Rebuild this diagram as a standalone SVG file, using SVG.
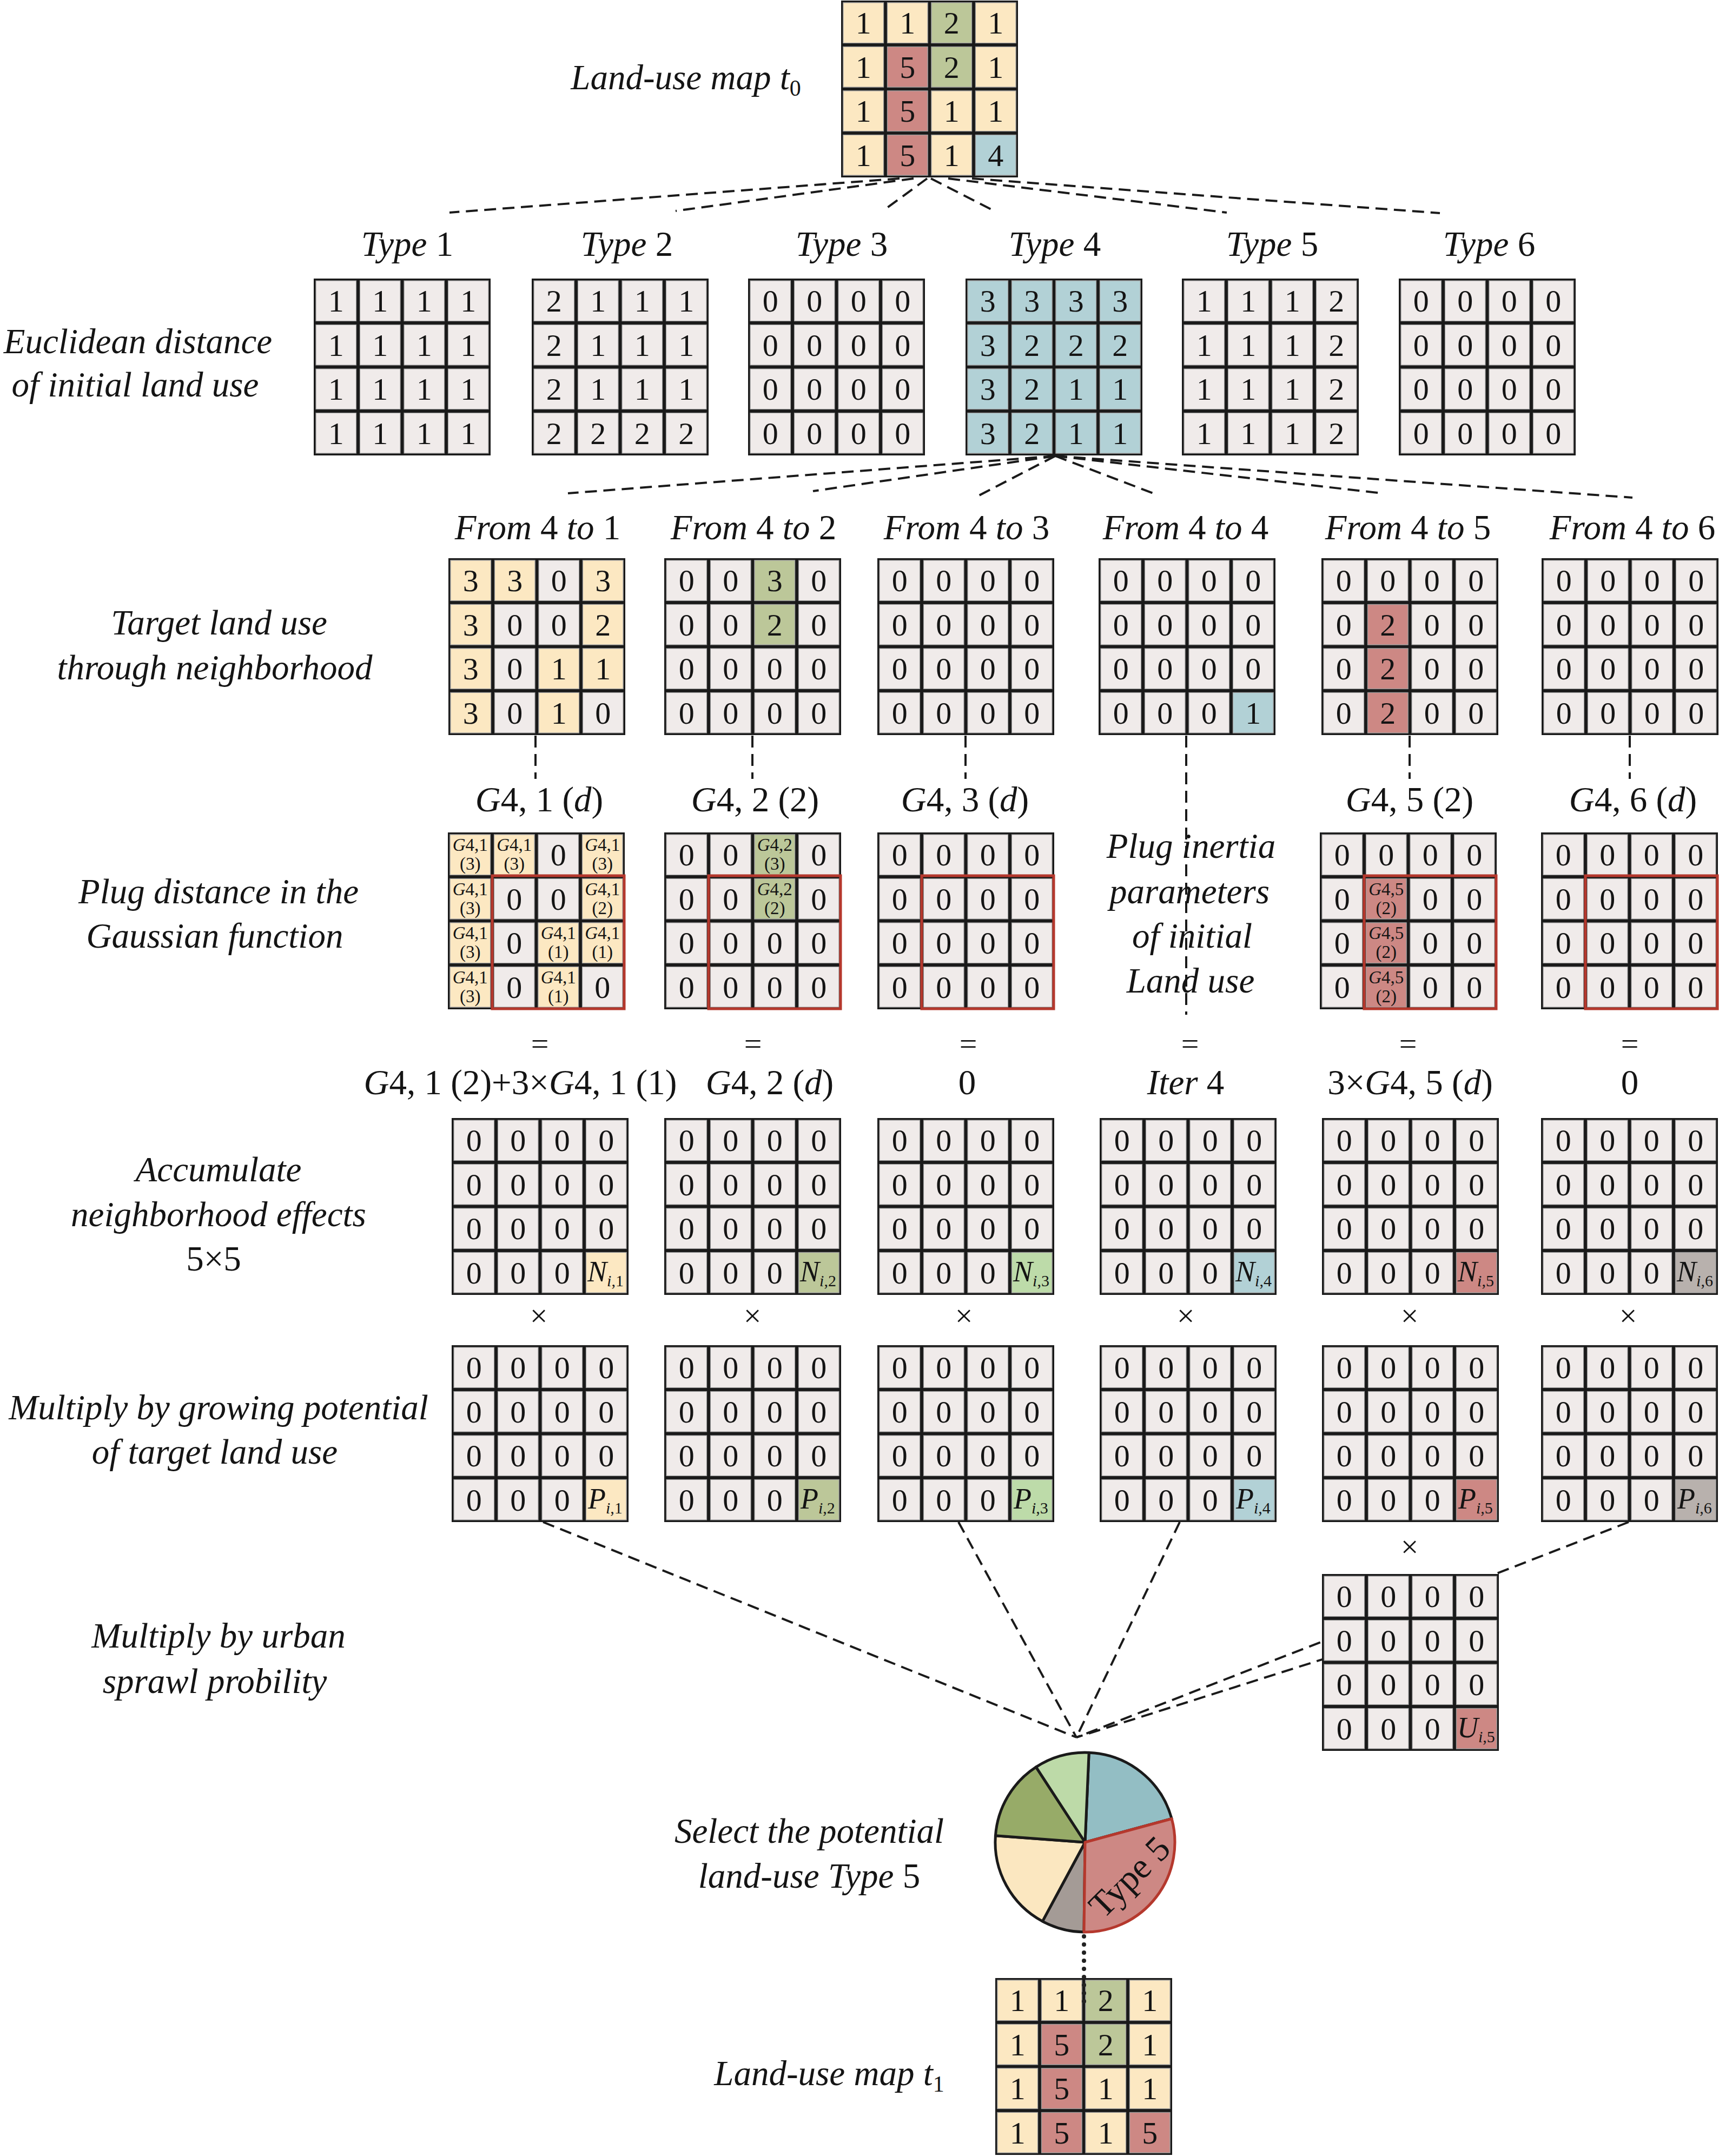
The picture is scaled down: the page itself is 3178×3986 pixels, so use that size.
<svg xmlns="http://www.w3.org/2000/svg" xmlns:xlink="http://www.w3.org/1999/xlink" width="3178" height="3986" viewBox="0 0 3178 3986">
<style>
.w{fill:#f0ebea}
.y{fill:#fce8c2}
.gn{fill:#bcc799}
.lg{fill:#bddba9}
.b{fill:#b2d1d6}
.r{fill:#cd8884}
.k{fill:#b8b1ad}
.c{stroke:#9e9e9e;stroke-width:1.2}
.n{font-family:"Liberation Serif","Times New Roman",serif;font-size:58px;fill:#141414;text-anchor:middle}
.gs{font-family:"Liberation Serif","Times New Roman",serif;font-size:33px;fill:#141414;text-anchor:middle}
.lab{font-family:"Liberation Serif","Times New Roman",serif;font-style:italic;font-size:65px;fill:#141414;text-anchor:middle}
.op{font-family:"Liberation Serif","Times New Roman",serif;font-size:58px;fill:#141414;text-anchor:middle}
.nn{font-family:"Liberation Serif","Times New Roman",serif;font-style:italic;font-size:54px;fill:#141414;text-anchor:start}
.up{font-style:normal}
.it{font-style:italic}
.dash{fill:none;stroke:#1a1a1a;stroke-width:4;stroke-dasharray:22 12}
.red{fill:none;stroke:#b5382d;stroke-width:5}
.pie{stroke:#1a1a1a;stroke-width:5;stroke-linejoin:round}
</style>
<defs>
<g id="base">
<rect width="327" height="327" fill="#1a1a1a"/>
<rect class="w c" x="4" y="4" width="74.5" height="74.5"/><rect class="w c" x="85.5" y="4" width="74.5" height="74.5"/><rect class="w c" x="167" y="4" width="74.5" height="74.5"/><rect class="w c" x="248.5" y="4" width="74.5" height="74.5"/>
<rect class="w c" x="4" y="85.5" width="74.5" height="74.5"/><rect class="w c" x="85.5" y="85.5" width="74.5" height="74.5"/><rect class="w c" x="167" y="85.5" width="74.5" height="74.5"/><rect class="w c" x="248.5" y="85.5" width="74.5" height="74.5"/>
<rect class="w c" x="4" y="167" width="74.5" height="74.5"/><rect class="w c" x="85.5" y="167" width="74.5" height="74.5"/><rect class="w c" x="167" y="167" width="74.5" height="74.5"/><rect class="w c" x="248.5" y="167" width="74.5" height="74.5"/>
<rect class="w c" x="4" y="248.5" width="74.5" height="74.5"/><rect class="w c" x="85.5" y="248.5" width="74.5" height="74.5"/><rect class="w c" x="167" y="248.5" width="74.5" height="74.5"/><rect class="w c" x="248.5" y="248.5" width="74.5" height="74.5"/>
</g>
</defs>
<rect width="3178" height="3986" fill="#ffffff"/>

<g id="connectors" class="dash">
<path d="M1663,330 L831,393"/>
<path d="M1689,330 L1249,390"/>
<path d="M1714,330 L1632,390"/>
<path d="M1721,330 L1842,392"/>
<path d="M1753,330 L2268,393"/>
<path d="M1797,330 L2662,394"/>
<path d="M1951,843 L1050,912"/>
<path d="M1951,843 L1503,908"/>
<path d="M1951,843 L1810,916"/>
<path d="M1951,843 L2140,915"/>
<path d="M1951,843 L2555,912"/>
<path d="M1951,843 L3018,920"/>
<path d="M990,1360 L990,1440"/>
<path d="M1391,1360 L1391,1440"/>
<path d="M1785,1360 L1785,1440"/>
<path d="M2193,1360 L2193,1876"/>
<path d="M2606,1360 L2606,1440"/>
<path d="M3013,1360 L3013,1440"/>
<path d="M1004,2814 L1990,3212"/>
<path d="M1772,2814 L1990,3212"/>
<path d="M2181,2814 L1990,3212"/>
<path d="M3011,2814 L1990,3212"/>
<path d="M2520,3044 L1990,3212"/>
</g>

<!-- Land-use map t0 -->
<g id="map-t0" transform="translate(1555,1)">
<use xlink:href="#base"/>
<rect class="y c" x="4" y="4" width="74.5" height="74.5"/><rect class="y c" x="85.5" y="4" width="74.5" height="74.5"/><rect class="gn c" x="167" y="4" width="74.5" height="74.5"/><rect class="y c" x="248.5" y="4" width="74.5" height="74.5"/>
<rect class="y c" x="4" y="85.5" width="74.5" height="74.5"/><rect class="r c" x="85.5" y="85.5" width="74.5" height="74.5"/><rect class="gn c" x="167" y="85.5" width="74.5" height="74.5"/><rect class="y c" x="248.5" y="85.5" width="74.5" height="74.5"/>
<rect class="y c" x="4" y="167" width="74.5" height="74.5"/><rect class="r c" x="85.5" y="167" width="74.5" height="74.5"/><rect class="y c" x="167" y="167" width="74.5" height="74.5"/><rect class="y c" x="248.5" y="167" width="74.5" height="74.5"/>
<rect class="y c" x="4" y="248.5" width="74.5" height="74.5"/><rect class="r c" x="85.5" y="248.5" width="74.5" height="74.5"/><rect class="y c" x="167" y="248.5" width="74.5" height="74.5"/><rect class="b c" x="248.5" y="248.5" width="74.5" height="74.5"/>
<g class="n">
<text x="41.25" y="61">1</text><text x="122.75" y="61">1</text><text x="204.25" y="61">2</text><text x="285.75" y="61">1</text>
<text x="41.25" y="142.5">1</text><text x="122.75" y="142.5">5</text><text x="204.25" y="142.5">2</text><text x="285.75" y="142.5">1</text>
<text x="41.25" y="224">1</text><text x="122.75" y="224">5</text><text x="204.25" y="224">1</text><text x="285.75" y="224">1</text>
<text x="41.25" y="305.5">1</text><text x="122.75" y="305.5">5</text><text x="204.25" y="305.5">1</text><text x="285.75" y="305.5">4</text>
</g>
</g>
<g id="lbl-t0" class="lab"><text x="1268" y="165">Land-use map t<tspan class="up" font-size="42" dy="12">0</tspan></text></g>

<!-- Type labels -->
<g id="lbl-types" class="lab">
<text x="753" y="473">Type<tspan class="up"> 1</tspan></text>
<text x="1159" y="473">Type<tspan class="up"> 2</tspan></text>
<text x="1556" y="473">Type<tspan class="up"> 3</tspan></text>
<text x="1950" y="473">Type<tspan class="up"> 4</tspan></text>
<text x="2352" y="473">Type<tspan class="up"> 5</tspan></text>
<text x="2753" y="473">Type<tspan class="up"> 6</tspan></text>
</g>
<g id="lbl-euclid" class="lab"><text x="255" y="653">Euclidean distance</text><text x="250" y="733">of initial land use</text></g>

<!-- Row 1: Euclidean distance -->
<g id="euc-1" transform="translate(580,515)">
<use xlink:href="#base"/>
<g class="n">
<text x="41.25" y="61">1</text><text x="122.75" y="61">1</text><text x="204.25" y="61">1</text><text x="285.75" y="61">1</text>
<text x="41.25" y="142.5">1</text><text x="122.75" y="142.5">1</text><text x="204.25" y="142.5">1</text><text x="285.75" y="142.5">1</text>
<text x="41.25" y="224">1</text><text x="122.75" y="224">1</text><text x="204.25" y="224">1</text><text x="285.75" y="224">1</text>
<text x="41.25" y="305.5">1</text><text x="122.75" y="305.5">1</text><text x="204.25" y="305.5">1</text><text x="285.75" y="305.5">1</text>
</g>
</g>
<g id="euc-2" transform="translate(983,515)">
<use xlink:href="#base"/>
<g class="n">
<text x="41.25" y="61">2</text><text x="122.75" y="61">1</text><text x="204.25" y="61">1</text><text x="285.75" y="61">1</text>
<text x="41.25" y="142.5">2</text><text x="122.75" y="142.5">1</text><text x="204.25" y="142.5">1</text><text x="285.75" y="142.5">1</text>
<text x="41.25" y="224">2</text><text x="122.75" y="224">1</text><text x="204.25" y="224">1</text><text x="285.75" y="224">1</text>
<text x="41.25" y="305.5">2</text><text x="122.75" y="305.5">2</text><text x="204.25" y="305.5">2</text><text x="285.75" y="305.5">2</text>
</g>
</g>
<g id="euc-3" transform="translate(1383,515)">
<use xlink:href="#base"/>
<g class="n">
<text x="41.25" y="61">0</text><text x="122.75" y="61">0</text><text x="204.25" y="61">0</text><text x="285.75" y="61">0</text>
<text x="41.25" y="142.5">0</text><text x="122.75" y="142.5">0</text><text x="204.25" y="142.5">0</text><text x="285.75" y="142.5">0</text>
<text x="41.25" y="224">0</text><text x="122.75" y="224">0</text><text x="204.25" y="224">0</text><text x="285.75" y="224">0</text>
<text x="41.25" y="305.5">0</text><text x="122.75" y="305.5">0</text><text x="204.25" y="305.5">0</text><text x="285.75" y="305.5">0</text>
</g>
</g>
<g id="euc-4" transform="translate(1785,515)">
<use xlink:href="#base"/>
<rect class="b c" x="4" y="4" width="74.5" height="74.5"/><rect class="b c" x="85.5" y="4" width="74.5" height="74.5"/><rect class="b c" x="167" y="4" width="74.5" height="74.5"/><rect class="b c" x="248.5" y="4" width="74.5" height="74.5"/>
<rect class="b c" x="4" y="85.5" width="74.5" height="74.5"/><rect class="b c" x="85.5" y="85.5" width="74.5" height="74.5"/><rect class="b c" x="167" y="85.5" width="74.5" height="74.5"/><rect class="b c" x="248.5" y="85.5" width="74.5" height="74.5"/>
<rect class="b c" x="4" y="167" width="74.5" height="74.5"/><rect class="b c" x="85.5" y="167" width="74.5" height="74.5"/><rect class="b c" x="167" y="167" width="74.5" height="74.5"/><rect class="b c" x="248.5" y="167" width="74.5" height="74.5"/>
<rect class="b c" x="4" y="248.5" width="74.5" height="74.5"/><rect class="b c" x="85.5" y="248.5" width="74.5" height="74.5"/><rect class="b c" x="167" y="248.5" width="74.5" height="74.5"/><rect class="b c" x="248.5" y="248.5" width="74.5" height="74.5"/>
<g class="n">
<text x="41.25" y="61">3</text><text x="122.75" y="61">3</text><text x="204.25" y="61">3</text><text x="285.75" y="61">3</text>
<text x="41.25" y="142.5">3</text><text x="122.75" y="142.5">2</text><text x="204.25" y="142.5">2</text><text x="285.75" y="142.5">2</text>
<text x="41.25" y="224">3</text><text x="122.75" y="224">2</text><text x="204.25" y="224">1</text><text x="285.75" y="224">1</text>
<text x="41.25" y="305.5">3</text><text x="122.75" y="305.5">2</text><text x="204.25" y="305.5">1</text><text x="285.75" y="305.5">1</text>
</g>
</g>
<g id="euc-5" transform="translate(2185,515)">
<use xlink:href="#base"/>
<g class="n">
<text x="41.25" y="61">1</text><text x="122.75" y="61">1</text><text x="204.25" y="61">1</text><text x="285.75" y="61">2</text>
<text x="41.25" y="142.5">1</text><text x="122.75" y="142.5">1</text><text x="204.25" y="142.5">1</text><text x="285.75" y="142.5">2</text>
<text x="41.25" y="224">1</text><text x="122.75" y="224">1</text><text x="204.25" y="224">1</text><text x="285.75" y="224">2</text>
<text x="41.25" y="305.5">1</text><text x="122.75" y="305.5">1</text><text x="204.25" y="305.5">1</text><text x="285.75" y="305.5">2</text>
</g>
</g>
<g id="euc-6" transform="translate(2586,515)">
<use xlink:href="#base"/>
<g class="n">
<text x="41.25" y="61">0</text><text x="122.75" y="61">0</text><text x="204.25" y="61">0</text><text x="285.75" y="61">0</text>
<text x="41.25" y="142.5">0</text><text x="122.75" y="142.5">0</text><text x="204.25" y="142.5">0</text><text x="285.75" y="142.5">0</text>
<text x="41.25" y="224">0</text><text x="122.75" y="224">0</text><text x="204.25" y="224">0</text><text x="285.75" y="224">0</text>
<text x="41.25" y="305.5">0</text><text x="122.75" y="305.5">0</text><text x="204.25" y="305.5">0</text><text x="285.75" y="305.5">0</text>
</g>
</g>

<!-- From labels -->
<g id="lbl-from" class="lab">
<text x="994" y="997">From<tspan class="up"> 4 </tspan>to<tspan class="up"> 1</tspan></text>
<text x="1393" y="997">From<tspan class="up"> 4 </tspan>to<tspan class="up"> 2</tspan></text>
<text x="1787" y="997">From<tspan class="up"> 4 </tspan>to<tspan class="up"> 3</tspan></text>
<text x="2192" y="997">From<tspan class="up"> 4 </tspan>to<tspan class="up"> 4</tspan></text>
<text x="2603" y="997">From<tspan class="up"> 4 </tspan>to<tspan class="up"> 5</tspan></text>
<text x="3018" y="997">From<tspan class="up"> 4 </tspan>to<tspan class="up"> 6</tspan></text>
</g>
<g id="lbl-target" class="lab"><text x="405" y="1173">Target land use</text><text x="397" y="1256">through neighborhood</text></g>

<!-- Row 2: Target land use -->
<g id="tgt-1" transform="translate(829,1032)">
<use xlink:href="#base"/>
<rect class="y c" x="4" y="4" width="74.5" height="74.5"/><rect class="y c" x="85.5" y="4" width="74.5" height="74.5"/><rect class="y c" x="248.5" y="4" width="74.5" height="74.5"/>
<rect class="y c" x="4" y="85.5" width="74.5" height="74.5"/><rect class="y c" x="248.5" y="85.5" width="74.5" height="74.5"/>
<rect class="y c" x="4" y="167" width="74.5" height="74.5"/><rect class="y c" x="167" y="167" width="74.5" height="74.5"/><rect class="y c" x="248.5" y="167" width="74.5" height="74.5"/>
<rect class="y c" x="4" y="248.5" width="74.5" height="74.5"/><rect class="y c" x="167" y="248.5" width="74.5" height="74.5"/>
<g class="n">
<text x="41.25" y="61">3</text><text x="122.75" y="61">3</text><text x="204.25" y="61">0</text><text x="285.75" y="61">3</text>
<text x="41.25" y="142.5">3</text><text x="122.75" y="142.5">0</text><text x="204.25" y="142.5">0</text><text x="285.75" y="142.5">2</text>
<text x="41.25" y="224">3</text><text x="122.75" y="224">0</text><text x="204.25" y="224">1</text><text x="285.75" y="224">1</text>
<text x="41.25" y="305.5">3</text><text x="122.75" y="305.5">0</text><text x="204.25" y="305.5">1</text><text x="285.75" y="305.5">0</text>
</g>
</g>
<g id="tgt-2" transform="translate(1228,1032)">
<use xlink:href="#base"/>
<rect class="gn c" x="167" y="4" width="74.5" height="74.5"/><rect class="gn c" x="167" y="85.5" width="74.5" height="74.5"/>
<g class="n">
<text x="41.25" y="61">0</text><text x="122.75" y="61">0</text><text x="204.25" y="61">3</text><text x="285.75" y="61">0</text>
<text x="41.25" y="142.5">0</text><text x="122.75" y="142.5">0</text><text x="204.25" y="142.5">2</text><text x="285.75" y="142.5">0</text>
<text x="41.25" y="224">0</text><text x="122.75" y="224">0</text><text x="204.25" y="224">0</text><text x="285.75" y="224">0</text>
<text x="41.25" y="305.5">0</text><text x="122.75" y="305.5">0</text><text x="204.25" y="305.5">0</text><text x="285.75" y="305.5">0</text>
</g>
</g>
<g id="tgt-3" transform="translate(1622,1032)">
<use xlink:href="#base"/>
<g class="n">
<text x="41.25" y="61">0</text><text x="122.75" y="61">0</text><text x="204.25" y="61">0</text><text x="285.75" y="61">0</text>
<text x="41.25" y="142.5">0</text><text x="122.75" y="142.5">0</text><text x="204.25" y="142.5">0</text><text x="285.75" y="142.5">0</text>
<text x="41.25" y="224">0</text><text x="122.75" y="224">0</text><text x="204.25" y="224">0</text><text x="285.75" y="224">0</text>
<text x="41.25" y="305.5">0</text><text x="122.75" y="305.5">0</text><text x="204.25" y="305.5">0</text><text x="285.75" y="305.5">0</text>
</g>
</g>
<g id="tgt-4" transform="translate(2031,1032)">
<use xlink:href="#base"/>
<rect class="b c" x="248.5" y="248.5" width="74.5" height="74.5"/>
<g class="n">
<text x="41.25" y="61">0</text><text x="122.75" y="61">0</text><text x="204.25" y="61">0</text><text x="285.75" y="61">0</text>
<text x="41.25" y="142.5">0</text><text x="122.75" y="142.5">0</text><text x="204.25" y="142.5">0</text><text x="285.75" y="142.5">0</text>
<text x="41.25" y="224">0</text><text x="122.75" y="224">0</text><text x="204.25" y="224">0</text><text x="285.75" y="224">0</text>
<text x="41.25" y="305.5">0</text><text x="122.75" y="305.5">0</text><text x="204.25" y="305.5">0</text><text x="285.75" y="305.5">1</text>
</g>
</g>
<g id="tgt-5" transform="translate(2443,1032)">
<use xlink:href="#base"/>
<rect class="r c" x="85.5" y="85.5" width="74.5" height="74.5"/><rect class="r c" x="85.5" y="167" width="74.5" height="74.5"/><rect class="r c" x="85.5" y="248.5" width="74.5" height="74.5"/>
<g class="n">
<text x="41.25" y="61">0</text><text x="122.75" y="61">0</text><text x="204.25" y="61">0</text><text x="285.75" y="61">0</text>
<text x="41.25" y="142.5">0</text><text x="122.75" y="142.5">2</text><text x="204.25" y="142.5">0</text><text x="285.75" y="142.5">0</text>
<text x="41.25" y="224">0</text><text x="122.75" y="224">2</text><text x="204.25" y="224">0</text><text x="285.75" y="224">0</text>
<text x="41.25" y="305.5">0</text><text x="122.75" y="305.5">2</text><text x="204.25" y="305.5">0</text><text x="285.75" y="305.5">0</text>
</g>
</g>
<g id="tgt-6" transform="translate(2850,1032)">
<use xlink:href="#base"/>
<g class="n">
<text x="41.25" y="61">0</text><text x="122.75" y="61">0</text><text x="204.25" y="61">0</text><text x="285.75" y="61">0</text>
<text x="41.25" y="142.5">0</text><text x="122.75" y="142.5">0</text><text x="204.25" y="142.5">0</text><text x="285.75" y="142.5">0</text>
<text x="41.25" y="224">0</text><text x="122.75" y="224">0</text><text x="204.25" y="224">0</text><text x="285.75" y="224">0</text>
<text x="41.25" y="305.5">0</text><text x="122.75" y="305.5">0</text><text x="204.25" y="305.5">0</text><text x="285.75" y="305.5">0</text>
</g>
</g>

<!-- G labels -->
<g id="lbl-g" class="lab">
<text x="997" y="1500">G<tspan class="up">4, 1 (</tspan>d<tspan class="up">)</tspan></text>
<text x="1396" y="1500">G<tspan class="up">4, 2 (2)</tspan></text>
<text x="1784" y="1500">G<tspan class="up">4, 3 (</tspan>d<tspan class="up">)</tspan></text>
<text x="2606" y="1500">G<tspan class="up">4, 5 (2)</tspan></text>
<text x="3019" y="1500">G<tspan class="up">4, 6 (</tspan>d<tspan class="up">)</tspan></text>
</g>
<g id="lbl-gauss" class="lab"><text x="404" y="1670">Plug distance in the</text><text x="397" y="1752">Gaussian function</text></g>
<g id="lbl-inertia" class="lab"><text x="2202" y="1586">Plug inertia</text><text x="2199" y="1670">parameters</text><text x="2204" y="1752">of initial</text><text x="2201" y="1835">Land use</text></g>

<!-- Row 3: Gaussian -->
<g id="gau-1" transform="translate(828,1539)">
<use xlink:href="#base"/>
<rect class="y c" x="4" y="4" width="74.5" height="74.5"/><rect class="y c" x="85.5" y="4" width="74.5" height="74.5"/><rect class="y c" x="248.5" y="4" width="74.5" height="74.5"/>
<rect class="y c" x="4" y="85.5" width="74.5" height="74.5"/><rect class="y c" x="248.5" y="85.5" width="74.5" height="74.5"/>
<rect class="y c" x="4" y="167" width="74.5" height="74.5"/><rect class="y c" x="167" y="167" width="74.5" height="74.5"/><rect class="y c" x="248.5" y="167" width="74.5" height="74.5"/>
<rect class="y c" x="4" y="248.5" width="74.5" height="74.5"/><rect class="y c" x="167" y="248.5" width="74.5" height="74.5"/>
<g class="gs">
<text x="41.25" y="34"><tspan class="it">G</tspan>4,1</text><text x="41.25" y="69">(3)</text>
<text x="122.75" y="34"><tspan class="it">G</tspan>4,1</text><text x="122.75" y="69">(3)</text>
<text x="285.75" y="34"><tspan class="it">G</tspan>4,1</text><text x="285.75" y="69">(3)</text>
<text x="41.25" y="115.5"><tspan class="it">G</tspan>4,1</text><text x="41.25" y="150.5">(3)</text>
<text x="285.75" y="115.5"><tspan class="it">G</tspan>4,1</text><text x="285.75" y="150.5">(2)</text>
<text x="41.25" y="197"><tspan class="it">G</tspan>4,1</text><text x="41.25" y="232">(3)</text>
<text x="204.25" y="197"><tspan class="it">G</tspan>4,1</text><text x="204.25" y="232">(1)</text>
<text x="285.75" y="197"><tspan class="it">G</tspan>4,1</text><text x="285.75" y="232">(1)</text>
<text x="41.25" y="278.5"><tspan class="it">G</tspan>4,1</text><text x="41.25" y="313.5">(3)</text>
<text x="204.25" y="278.5"><tspan class="it">G</tspan>4,1</text><text x="204.25" y="313.5">(1)</text>
</g>
<g class="n">
<text x="204.25" y="61">0</text>
<text x="122.75" y="142.5">0</text><text x="204.25" y="142.5">0</text>
<text x="122.75" y="224">0</text>
<text x="122.75" y="305.5">0</text><text x="285.75" y="305.5">0</text>
</g>
<rect class="red" x="82" y="80" width="244" height="246"/>
</g>
<g id="gau-2" transform="translate(1228,1539)">
<use xlink:href="#base"/>
<rect class="gn c" x="167" y="4" width="74.5" height="74.5"/><rect class="gn c" x="167" y="85.5" width="74.5" height="74.5"/>
<g class="gs">
<text x="204.25" y="34"><tspan class="it">G</tspan>4,2</text><text x="204.25" y="69">(3)</text>
<text x="204.25" y="115.5"><tspan class="it">G</tspan>4,2</text><text x="204.25" y="150.5">(2)</text>
</g>
<g class="n">
<text x="41.25" y="61">0</text><text x="122.75" y="61">0</text><text x="285.75" y="61">0</text>
<text x="41.25" y="142.5">0</text><text x="122.75" y="142.5">0</text><text x="285.75" y="142.5">0</text>
<text x="41.25" y="224">0</text><text x="122.75" y="224">0</text><text x="204.25" y="224">0</text><text x="285.75" y="224">0</text>
<text x="41.25" y="305.5">0</text><text x="122.75" y="305.5">0</text><text x="204.25" y="305.5">0</text><text x="285.75" y="305.5">0</text>
</g>
<rect class="red" x="82" y="80" width="244" height="246"/>
</g>
<g id="gau-3" transform="translate(1622,1539)">
<use xlink:href="#base"/>
<g class="n">
<text x="41.25" y="61">0</text><text x="122.75" y="61">0</text><text x="204.25" y="61">0</text><text x="285.75" y="61">0</text>
<text x="41.25" y="142.5">0</text><text x="122.75" y="142.5">0</text><text x="204.25" y="142.5">0</text><text x="285.75" y="142.5">0</text>
<text x="41.25" y="224">0</text><text x="122.75" y="224">0</text><text x="204.25" y="224">0</text><text x="285.75" y="224">0</text>
<text x="41.25" y="305.5">0</text><text x="122.75" y="305.5">0</text><text x="204.25" y="305.5">0</text><text x="285.75" y="305.5">0</text>
</g>
<rect class="red" x="82" y="80" width="244" height="246"/>
</g>
<g id="gau-5" transform="translate(2440,1539)">
<use xlink:href="#base"/>
<rect class="r c" x="85.5" y="85.5" width="74.5" height="74.5"/><rect class="r c" x="85.5" y="167" width="74.5" height="74.5"/><rect class="r c" x="85.5" y="248.5" width="74.5" height="74.5"/>
<g class="gs">
<text x="122.75" y="115.5"><tspan class="it">G</tspan>4,5</text><text x="122.75" y="150.5">(2)</text>
<text x="122.75" y="197"><tspan class="it">G</tspan>4,5</text><text x="122.75" y="232">(2)</text>
<text x="122.75" y="278.5"><tspan class="it">G</tspan>4,5</text><text x="122.75" y="313.5">(2)</text>
</g>
<g class="n">
<text x="41.25" y="61">0</text><text x="122.75" y="61">0</text><text x="204.25" y="61">0</text><text x="285.75" y="61">0</text>
<text x="41.25" y="142.5">0</text><text x="204.25" y="142.5">0</text><text x="285.75" y="142.5">0</text>
<text x="41.25" y="224">0</text><text x="204.25" y="224">0</text><text x="285.75" y="224">0</text>
<text x="41.25" y="305.5">0</text><text x="204.25" y="305.5">0</text><text x="285.75" y="305.5">0</text>
</g>
<rect class="red" x="82" y="80" width="244" height="246"/>
</g>
<g id="gau-6" transform="translate(2849,1539)">
<use xlink:href="#base"/>
<g class="n">
<text x="41.25" y="61">0</text><text x="122.75" y="61">0</text><text x="204.25" y="61">0</text><text x="285.75" y="61">0</text>
<text x="41.25" y="142.5">0</text><text x="122.75" y="142.5">0</text><text x="204.25" y="142.5">0</text><text x="285.75" y="142.5">0</text>
<text x="41.25" y="224">0</text><text x="122.75" y="224">0</text><text x="204.25" y="224">0</text><text x="285.75" y="224">0</text>
<text x="41.25" y="305.5">0</text><text x="122.75" y="305.5">0</text><text x="204.25" y="305.5">0</text><text x="285.75" y="305.5">0</text>
</g>
<rect class="red" x="82" y="80" width="244" height="246"/>
</g>

<!-- equals and formula row -->
<g id="ops-eq" class="op">
<text x="998" y="1949">=</text><text x="1392" y="1949">=</text><text x="1790" y="1949">=</text><text x="2200" y="1949">=</text><text x="2603" y="1949">=</text><text x="3013" y="1949">=</text>
</g>
<g id="lbl-formula" class="lab">
<text x="962" y="2023">G<tspan class="up">4, 1 (2)+3×</tspan>G<tspan class="up">4, 1 (1)</tspan></text>
<text x="1423" y="2023">G<tspan class="up">4, 2 (</tspan>d<tspan class="up">)</tspan></text>
<text x="1788" y="2023" class="up">0</text>
<text x="2192" y="2023">Iter<tspan class="up"> 4</tspan></text>
<text x="2607" y="2023"><tspan class="up">3×</tspan>G<tspan class="up">4, 5 (</tspan>d<tspan class="up">)</tspan></text>
<text x="3013" y="2023" class="up">0</text>
</g>
<g id="lbl-accum" class="lab"><text x="404" y="2184">Accumulate</text><text x="404" y="2267">neighborhood effects</text><text x="395" y="2349" class="up">5×5</text></g>

<!-- Row 4: accumulate -->
<g id="acc-1" transform="translate(835,2067)">
<use xlink:href="#base"/>
<rect class="y c" x="248.5" y="248.5" width="74.5" height="74.5"/>
<g class="n">
<text x="41.25" y="61">0</text><text x="122.75" y="61">0</text><text x="204.25" y="61">0</text><text x="285.75" y="61">0</text>
<text x="41.25" y="142.5">0</text><text x="122.75" y="142.5">0</text><text x="204.25" y="142.5">0</text><text x="285.75" y="142.5">0</text>
<text x="41.25" y="224">0</text><text x="122.75" y="224">0</text><text x="204.25" y="224">0</text><text x="285.75" y="224">0</text>
<text x="41.25" y="305.5">0</text><text x="122.75" y="305.5">0</text><text x="204.25" y="305.5">0</text>
</g>
<text class="nn" x="251" y="302">N<tspan font-size="30" dy="9">i</tspan><tspan class="up" font-size="30">,1</tspan></text>
</g>
<g id="acc-2" transform="translate(1228,2067)">
<use xlink:href="#base"/>
<rect class="gn c" x="248.5" y="248.5" width="74.5" height="74.5"/>
<g class="n">
<text x="41.25" y="61">0</text><text x="122.75" y="61">0</text><text x="204.25" y="61">0</text><text x="285.75" y="61">0</text>
<text x="41.25" y="142.5">0</text><text x="122.75" y="142.5">0</text><text x="204.25" y="142.5">0</text><text x="285.75" y="142.5">0</text>
<text x="41.25" y="224">0</text><text x="122.75" y="224">0</text><text x="204.25" y="224">0</text><text x="285.75" y="224">0</text>
<text x="41.25" y="305.5">0</text><text x="122.75" y="305.5">0</text><text x="204.25" y="305.5">0</text>
</g>
<text class="nn" x="251" y="302">N<tspan font-size="30" dy="9">i</tspan><tspan class="up" font-size="30">,2</tspan></text>
</g>
<g id="acc-3" transform="translate(1622,2067)">
<use xlink:href="#base"/>
<rect class="lg c" x="248.5" y="248.5" width="74.5" height="74.5"/>
<g class="n">
<text x="41.25" y="61">0</text><text x="122.75" y="61">0</text><text x="204.25" y="61">0</text><text x="285.75" y="61">0</text>
<text x="41.25" y="142.5">0</text><text x="122.75" y="142.5">0</text><text x="204.25" y="142.5">0</text><text x="285.75" y="142.5">0</text>
<text x="41.25" y="224">0</text><text x="122.75" y="224">0</text><text x="204.25" y="224">0</text><text x="285.75" y="224">0</text>
<text x="41.25" y="305.5">0</text><text x="122.75" y="305.5">0</text><text x="204.25" y="305.5">0</text>
</g>
<text class="nn" x="251" y="302">N<tspan font-size="30" dy="9">i</tspan><tspan class="up" font-size="30">,3</tspan></text>
</g>
<g id="acc-4" transform="translate(2033,2067)">
<use xlink:href="#base"/>
<rect class="b c" x="248.5" y="248.5" width="74.5" height="74.5"/>
<g class="n">
<text x="41.25" y="61">0</text><text x="122.75" y="61">0</text><text x="204.25" y="61">0</text><text x="285.75" y="61">0</text>
<text x="41.25" y="142.5">0</text><text x="122.75" y="142.5">0</text><text x="204.25" y="142.5">0</text><text x="285.75" y="142.5">0</text>
<text x="41.25" y="224">0</text><text x="122.75" y="224">0</text><text x="204.25" y="224">0</text><text x="285.75" y="224">0</text>
<text x="41.25" y="305.5">0</text><text x="122.75" y="305.5">0</text><text x="204.25" y="305.5">0</text>
</g>
<text class="nn" x="251" y="302">N<tspan font-size="30" dy="9">i</tspan><tspan class="up" font-size="30">,4</tspan></text>
</g>
<g id="acc-5" transform="translate(2444,2067)">
<use xlink:href="#base"/>
<rect class="r c" x="248.5" y="248.5" width="74.5" height="74.5"/>
<g class="n">
<text x="41.25" y="61">0</text><text x="122.75" y="61">0</text><text x="204.25" y="61">0</text><text x="285.75" y="61">0</text>
<text x="41.25" y="142.5">0</text><text x="122.75" y="142.5">0</text><text x="204.25" y="142.5">0</text><text x="285.75" y="142.5">0</text>
<text x="41.25" y="224">0</text><text x="122.75" y="224">0</text><text x="204.25" y="224">0</text><text x="285.75" y="224">0</text>
<text x="41.25" y="305.5">0</text><text x="122.75" y="305.5">0</text><text x="204.25" y="305.5">0</text>
</g>
<text class="nn" x="251" y="302">N<tspan font-size="30" dy="9">i</tspan><tspan class="up" font-size="30">,5</tspan></text>
</g>
<g id="acc-6" transform="translate(2849,2067)">
<use xlink:href="#base"/>
<rect class="k c" x="248.5" y="248.5" width="74.5" height="74.5"/>
<g class="n">
<text x="41.25" y="61">0</text><text x="122.75" y="61">0</text><text x="204.25" y="61">0</text><text x="285.75" y="61">0</text>
<text x="41.25" y="142.5">0</text><text x="122.75" y="142.5">0</text><text x="204.25" y="142.5">0</text><text x="285.75" y="142.5">0</text>
<text x="41.25" y="224">0</text><text x="122.75" y="224">0</text><text x="204.25" y="224">0</text><text x="285.75" y="224">0</text>
<text x="41.25" y="305.5">0</text><text x="122.75" y="305.5">0</text><text x="204.25" y="305.5">0</text>
</g>
<text class="nn" x="251" y="302">N<tspan font-size="30" dy="9">i</tspan><tspan class="up" font-size="30">,6</tspan></text>
</g>

<g id="ops-times" class="op">
<text x="996" y="2452">×</text><text x="1391" y="2452">×</text><text x="1782" y="2452">×</text><text x="2192" y="2452">×</text><text x="2606" y="2452">×</text><text x="3010" y="2452">×</text>
<text x="2606" y="2879">×</text>
</g>
<g id="lbl-growth" class="lab"><text x="404" y="2624">Multiply by growing potential</text><text x="397" y="2706">of target land use</text></g>

<!-- Row 5: growing potential -->
<g id="pot-1" transform="translate(835,2487)">
<use xlink:href="#base"/>
<rect class="y c" x="248.5" y="248.5" width="74.5" height="74.5"/>
<g class="n">
<text x="41.25" y="61">0</text><text x="122.75" y="61">0</text><text x="204.25" y="61">0</text><text x="285.75" y="61">0</text>
<text x="41.25" y="142.5">0</text><text x="122.75" y="142.5">0</text><text x="204.25" y="142.5">0</text><text x="285.75" y="142.5">0</text>
<text x="41.25" y="224">0</text><text x="122.75" y="224">0</text><text x="204.25" y="224">0</text><text x="285.75" y="224">0</text>
<text x="41.25" y="305.5">0</text><text x="122.75" y="305.5">0</text><text x="204.25" y="305.5">0</text>
</g>
<text class="nn" x="252" y="302">P<tspan font-size="30" dy="9">i</tspan><tspan class="up" font-size="30">,1</tspan></text>
</g>
<g id="pot-2" transform="translate(1228,2487)">
<use xlink:href="#base"/>
<rect class="gn c" x="248.5" y="248.5" width="74.5" height="74.5"/>
<g class="n">
<text x="41.25" y="61">0</text><text x="122.75" y="61">0</text><text x="204.25" y="61">0</text><text x="285.75" y="61">0</text>
<text x="41.25" y="142.5">0</text><text x="122.75" y="142.5">0</text><text x="204.25" y="142.5">0</text><text x="285.75" y="142.5">0</text>
<text x="41.25" y="224">0</text><text x="122.75" y="224">0</text><text x="204.25" y="224">0</text><text x="285.75" y="224">0</text>
<text x="41.25" y="305.5">0</text><text x="122.75" y="305.5">0</text><text x="204.25" y="305.5">0</text>
</g>
<text class="nn" x="252" y="302">P<tspan font-size="30" dy="9">i</tspan><tspan class="up" font-size="30">,2</tspan></text>
</g>
<g id="pot-3" transform="translate(1622,2487)">
<use xlink:href="#base"/>
<rect class="lg c" x="248.5" y="248.5" width="74.5" height="74.5"/>
<g class="n">
<text x="41.25" y="61">0</text><text x="122.75" y="61">0</text><text x="204.25" y="61">0</text><text x="285.75" y="61">0</text>
<text x="41.25" y="142.5">0</text><text x="122.75" y="142.5">0</text><text x="204.25" y="142.5">0</text><text x="285.75" y="142.5">0</text>
<text x="41.25" y="224">0</text><text x="122.75" y="224">0</text><text x="204.25" y="224">0</text><text x="285.75" y="224">0</text>
<text x="41.25" y="305.5">0</text><text x="122.75" y="305.5">0</text><text x="204.25" y="305.5">0</text>
</g>
<text class="nn" x="252" y="302">P<tspan font-size="30" dy="9">i</tspan><tspan class="up" font-size="30">,3</tspan></text>
</g>
<g id="pot-4" transform="translate(2033,2487)">
<use xlink:href="#base"/>
<rect class="b c" x="248.5" y="248.5" width="74.5" height="74.5"/>
<g class="n">
<text x="41.25" y="61">0</text><text x="122.75" y="61">0</text><text x="204.25" y="61">0</text><text x="285.75" y="61">0</text>
<text x="41.25" y="142.5">0</text><text x="122.75" y="142.5">0</text><text x="204.25" y="142.5">0</text><text x="285.75" y="142.5">0</text>
<text x="41.25" y="224">0</text><text x="122.75" y="224">0</text><text x="204.25" y="224">0</text><text x="285.75" y="224">0</text>
<text x="41.25" y="305.5">0</text><text x="122.75" y="305.5">0</text><text x="204.25" y="305.5">0</text>
</g>
<text class="nn" x="252" y="302">P<tspan font-size="30" dy="9">i</tspan><tspan class="up" font-size="30">,4</tspan></text>
</g>
<g id="pot-5" transform="translate(2444,2487)">
<use xlink:href="#base"/>
<rect class="r c" x="248.5" y="248.5" width="74.5" height="74.5"/>
<g class="n">
<text x="41.25" y="61">0</text><text x="122.75" y="61">0</text><text x="204.25" y="61">0</text><text x="285.75" y="61">0</text>
<text x="41.25" y="142.5">0</text><text x="122.75" y="142.5">0</text><text x="204.25" y="142.5">0</text><text x="285.75" y="142.5">0</text>
<text x="41.25" y="224">0</text><text x="122.75" y="224">0</text><text x="204.25" y="224">0</text><text x="285.75" y="224">0</text>
<text x="41.25" y="305.5">0</text><text x="122.75" y="305.5">0</text><text x="204.25" y="305.5">0</text>
</g>
<text class="nn" x="252" y="302">P<tspan font-size="30" dy="9">i</tspan><tspan class="up" font-size="30">,5</tspan></text>
</g>
<g id="pot-6" transform="translate(2849,2487)">
<use xlink:href="#base"/>
<rect class="k c" x="248.5" y="248.5" width="74.5" height="74.5"/>
<g class="n">
<text x="41.25" y="61">0</text><text x="122.75" y="61">0</text><text x="204.25" y="61">0</text><text x="285.75" y="61">0</text>
<text x="41.25" y="142.5">0</text><text x="122.75" y="142.5">0</text><text x="204.25" y="142.5">0</text><text x="285.75" y="142.5">0</text>
<text x="41.25" y="224">0</text><text x="122.75" y="224">0</text><text x="204.25" y="224">0</text><text x="285.75" y="224">0</text>
<text x="41.25" y="305.5">0</text><text x="122.75" y="305.5">0</text><text x="204.25" y="305.5">0</text>
</g>
<text class="nn" x="252" y="302">P<tspan font-size="30" dy="9">i</tspan><tspan class="up" font-size="30">,6</tspan></text>
</g>

<!-- Urban sprawl -->
<g id="lbl-urban" class="lab"><text x="404" y="3046">Multiply by urban</text><text x="397" y="3130">sprawl probility</text></g>
<g id="urb-5" transform="translate(2444,2910)">
<use xlink:href="#base"/>
<rect class="r c" x="248.5" y="248.5" width="74.5" height="74.5"/>
<g class="n">
<text x="41.25" y="61">0</text><text x="122.75" y="61">0</text><text x="204.25" y="61">0</text><text x="285.75" y="61">0</text>
<text x="41.25" y="142.5">0</text><text x="122.75" y="142.5">0</text><text x="204.25" y="142.5">0</text><text x="285.75" y="142.5">0</text>
<text x="41.25" y="224">0</text><text x="122.75" y="224">0</text><text x="204.25" y="224">0</text><text x="285.75" y="224">0</text>
<text x="41.25" y="305.5">0</text><text x="122.75" y="305.5">0</text><text x="204.25" y="305.5">0</text>
</g>
<text class="nn" x="250" y="302" font-size="52">U<tspan font-size="30" dy="9">i</tspan><tspan class="up" font-size="30">,5</tspan></text>
</g>

<!-- Pie -->
<g id="pie">
<path class="pie" d="M2006,3406 L2013.2,3240.2 A166,166 0 0 1 2166.2,3362.5 Z" fill="#93bec4"/>
<path class="pie" d="M2006,3406 L2004,3572 A166,166 0 0 1 1927.3,3552.1 Z" fill="#a49b96"/>
<path class="pie" d="M2006,3406 L1927.3,3552.1 A166,166 0 0 1 1840.4,3393.8 Z" fill="#fbe7c0"/>
<path class="pie" d="M2006,3406 L1840.4,3393.8 A166,166 0 0 1 1915.4,3266.9 Z" fill="#97ab68"/>
<path class="pie" d="M2006,3406 L1915.4,3266.9 A166,166 0 0 1 2013.2,3240.2 Z" fill="#bddaa8"/>
<path d="M2006,3406 L2166.2,3362.5 A166,166 0 0 1 2004,3572 Z" fill="#cd8884" stroke="#b5382d" stroke-width="5" stroke-linejoin="round"/>
<text transform="translate(2088,3470) rotate(-45)" x="0" y="22" font-family="Liberation Serif, Times New Roman, serif" font-size="66" fill="#141414" text-anchor="middle">Type 5</text>
</g>
<g id="lbl-select" class="lab"><text x="1496" y="3407">Select the potential</text><text x="1496" y="3490">land-use Type <tspan class="up">5</tspan></text></g>

<!-- Land-use map t1 -->
<g id="map-t1" transform="translate(1840,3657)">
<use xlink:href="#base"/>
<rect class="y c" x="4" y="4" width="74.5" height="74.5"/><rect class="y c" x="85.5" y="4" width="74.5" height="74.5"/><rect class="gn c" x="167" y="4" width="74.5" height="74.5"/><rect class="y c" x="248.5" y="4" width="74.5" height="74.5"/>
<rect class="y c" x="4" y="85.5" width="74.5" height="74.5"/><rect class="r c" x="85.5" y="85.5" width="74.5" height="74.5"/><rect class="gn c" x="167" y="85.5" width="74.5" height="74.5"/><rect class="y c" x="248.5" y="85.5" width="74.5" height="74.5"/>
<rect class="y c" x="4" y="167" width="74.5" height="74.5"/><rect class="r c" x="85.5" y="167" width="74.5" height="74.5"/><rect class="y c" x="167" y="167" width="74.5" height="74.5"/><rect class="y c" x="248.5" y="167" width="74.5" height="74.5"/>
<rect class="y c" x="4" y="248.5" width="74.5" height="74.5"/><rect class="r c" x="85.5" y="248.5" width="74.5" height="74.5"/><rect class="y c" x="167" y="248.5" width="74.5" height="74.5"/><rect class="r c" x="248.5" y="248.5" width="74.5" height="74.5"/>
<g class="n">
<text x="41.25" y="61">1</text><text x="122.75" y="61">1</text><text x="204.25" y="61">2</text><text x="285.75" y="61">1</text>
<text x="41.25" y="142.5">1</text><text x="122.75" y="142.5">5</text><text x="204.25" y="142.5">2</text><text x="285.75" y="142.5">1</text>
<text x="41.25" y="224">1</text><text x="122.75" y="224">5</text><text x="204.25" y="224">1</text><text x="285.75" y="224">1</text>
<text x="41.25" y="305.5">1</text><text x="122.75" y="305.5">5</text><text x="204.25" y="305.5">1</text><text x="285.75" y="305.5">5</text>
</g>
</g>
<g id="connector-dotted">
<line x1="2004" y1="3580" x2="2004" y2="3702" stroke="#222" stroke-width="8" stroke-linecap="round" stroke-dasharray="0 15"/>
</g>
<g id="lbl-t1" class="lab"><text x="1533" y="3855">Land-use map t<tspan class="up" font-size="42" dy="12">1</tspan></text></g>
</svg>
